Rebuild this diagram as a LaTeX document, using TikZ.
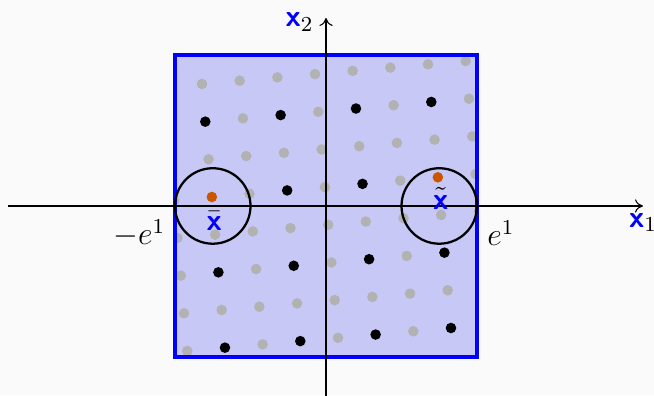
\documentclass[tikz,border=0pt]{standalone}
\usetikzlibrary{arrows.meta}
\definecolor{bgcol}{RGB}{250,250,250}
\definecolor{fillblue}{RGB}{200,200,247}
\definecolor{dotorange}{RGB}{204,85,0}
\newcommand{\bx}{{\sffamily\bfseries\textcolor{blue}{x}}}
\begin{document}
\begin{tikzpicture}[x=2cm,y=2cm,
  axisline/.style={line width=0.4pt,-{To[length=3pt,width=5pt]}},
  ballline/.style={line width=0.85pt,draw=black},
  axlabel/.style={font=\fontsize{11.5}{13}\selectfont,text=black},
  elabel/.style={font=\fontsize{11.5}{13}\selectfont,inner sep=0pt}]
% background / bounding box
\fill[bgcol] (-2.159,-1.252) rectangle (2.172,1.364);
\useasboundingbox (-2.159,-1.252) rectangle (2.172,1.364);
% feasible square
\fill[fillblue] (-1,-1) rectangle (1,1);
% lattice points
\begin{scope}
\clip (-1,-1) rectangle (1,1);
\foreach \i in {-1,...,7}{
  \foreach \j in {0,...,7}{
    \pgfmathsetmacro\u{-0.8212+0.24947*\i+0.02172*\j}
    \pgfmathsetmacro\v{0.8079+0.02172*\i-0.24947*\j}
    \def\dc{gray!60}
    \ifodd\j \ifodd\i \else \def\dc{black}\fi\fi
    \ifnum\j=3 \ifnum\i=0 \def\dc{dotorange}\fi \ifnum\i=6 \def\dc{dotorange}\fi\fi
    \fill[\dc] (\u,\v) circle (0.035);
  }
}
\end{scope}
\draw[draw=blue,line width=1.4pt] (-1,-1) rectangle (1,1);
% axes
\coordinate (xa) at (-2.106,0);
\coordinate (xb) at (2.099,0);
\coordinate (ya) at (0,-1.26);
\coordinate (yb) at (0,1.245);
\draw[axisline] (xa) -- (xb);
\draw[axisline] (ya) -- (yb);
\node[axlabel,below,inner sep=2.5pt] (lx1) at (xb) {\bx\textsubscript{1}};
\node[axlabel,anchor=east,inner sep=2.5pt] (lx2) at ([xshift=-2pt,yshift=-1.5pt]yb) {\bx\textsubscript{2}};
% balls
\coordinate (cl) at (-0.75,0);
\coordinate (cr) at (0.75,0);
\draw[ballline] (cl) circle (0.25);
\draw[ballline] (cr) circle (0.25);
\node[axlabel] (xbar) at (-0.74,-0.1) {$\bar{\hbox{\bx}}$};
\node[axlabel] (xtil) at (0.76,0.05) {$\tilde{\hbox{\bx}}$};
% e labels
\node[elabel] (em) at (-1.236,-0.182) {$-e^1$};
\node[elabel] (ep) at (1.158,-0.179) {$e^1$};
\end{tikzpicture}
\end{document}
